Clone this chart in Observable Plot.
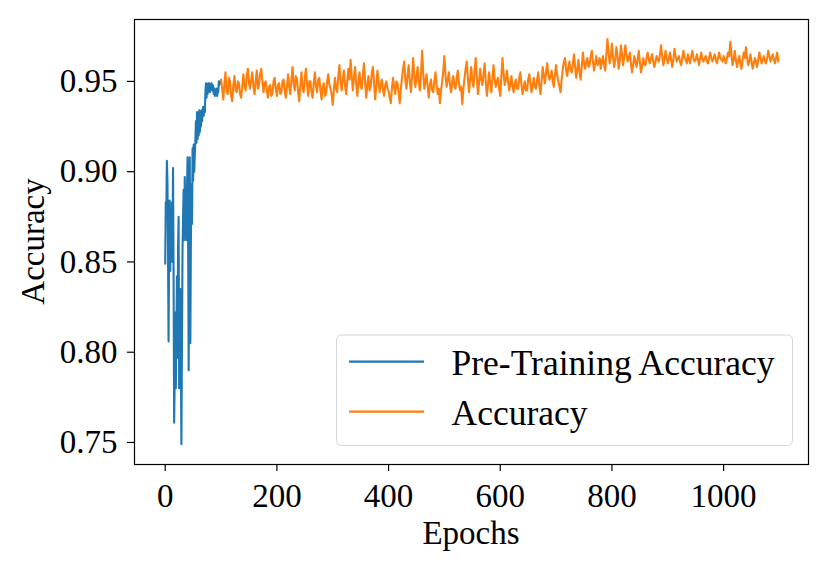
<!DOCTYPE html>
<html><head><meta charset="utf-8">
<script src="https://cdn.jsdelivr.net/npm/d3@7"></script>
<script src="https://cdn.jsdelivr.net/npm/@observablehq/plot@0.6"></script>
<style>html,body{margin:0;padding:0;background:#fff} svg{display:block}</style>
</head><body><div id="chart"></div>
<script>
// Pre-training accuracy, epochs 0..99
const pretrainAcc = [
  0.849, 0.883, 0.878, 0.906, 0.895, 0.858, 0.806, 0.862, 0.884, 0.845,
  0.872, 0.858, 0.883, 0.850, 0.902, 0.842, 0.761, 0.785, 0.822, 0.780,
  0.810, 0.842, 0.797, 0.858, 0.875, 0.780, 0.800, 0.835, 0.800, 0.749,
  0.805, 0.857, 0.875, 0.890, 0.862, 0.897, 0.871, 0.886, 0.862, 0.890,
  0.908, 0.872, 0.790, 0.871, 0.908, 0.805, 0.862, 0.893, 0.871, 0.913,
  0.895, 0.915, 0.900, 0.910, 0.917, 0.928, 0.916, 0.933, 0.918, 0.931,
  0.920, 0.934, 0.922, 0.933, 0.925, 0.934, 0.928, 0.933, 0.936, 0.931,
  0.936, 0.933, 0.944, 0.949, 0.941, 0.948, 0.943, 0.949, 0.945, 0.949,
  0.944, 0.948, 0.946, 0.949, 0.945, 0.948, 0.947, 0.943, 0.946, 0.942,
  0.945, 0.943, 0.946, 0.942, 0.945, 0.944, 0.950, 0.948, 0.950, 0.949
];
// Training accuracy, read every 2 epochs from epoch 100
const trainStart = 100, trainStep = 2;
const trainAcc = [
  0.951,0.946,0.940,0.949,0.955,0.944,0.943,0.952,0.950,0.942,0.939,0.948,0.953,0.945,0.944,0.950,0.949,0.943,0.941,0.947,
  0.954,0.948,0.945,0.953,0.957,0.949,0.946,0.951,0.955,0.947,0.943,0.950,0.956,0.946,0.948,0.954,0.957,0.950,0.944,0.949,
  0.950,0.945,0.941,0.947,0.948,0.942,0.943,0.950,0.952,0.946,0.942,0.948,0.949,0.943,0.944,0.950,0.951,0.945,0.941,0.947,
  0.954,0.947,0.943,0.951,0.958,0.949,0.945,0.953,0.951,0.944,0.939,0.948,0.955,0.946,0.944,0.952,0.957,0.948,0.942,0.950,
  0.950,0.944,0.941,0.949,0.955,0.947,0.944,0.951,0.952,0.945,0.940,0.947,0.949,0.942,0.943,0.950,0.954,0.948,0.946,0.943,
  0.937,0.945,0.952,0.946,0.944,0.953,0.959,0.950,0.945,0.951,0.956,0.948,0.943,0.950,0.957,0.951,0.962,0.953,0.945,0.952,
  0.958,0.949,0.942,0.950,0.955,0.947,0.946,0.954,0.960,0.950,0.941,0.948,0.953,0.945,0.947,0.955,0.958,0.949,0.940,0.947,
  0.956,0.950,0.944,0.949,0.951,0.945,0.942,0.948,0.950,0.946,0.945,0.941,0.938,0.946,0.952,0.947,0.943,0.950,0.949,0.944,
  0.938,0.946,0.952,0.957,0.961,0.951,0.946,0.953,0.959,0.950,0.944,0.952,0.963,0.954,0.947,0.952,0.958,0.950,0.945,0.953,
  0.967,0.955,0.946,0.950,0.954,0.947,0.941,0.948,0.951,0.945,0.944,0.950,0.955,0.948,0.943,0.946,0.938,0.945,0.950,0.956,
  0.964,0.953,0.947,0.951,0.955,0.948,0.944,0.950,0.953,0.947,0.946,0.952,0.956,0.949,0.945,0.947,0.9375,0.946,0.952,0.957,
  0.961,0.952,0.944,0.951,0.958,0.950,0.947,0.955,0.963,0.953,0.943,0.949,0.957,0.951,0.948,0.954,0.960,0.950,0.942,0.948,
  0.955,0.949,0.944,0.952,0.959,0.951,0.947,0.950,0.952,0.946,0.942,0.953,0.963,0.954,0.948,0.951,0.956,0.950,0.945,0.949,
  0.953,0.947,0.944,0.949,0.951,0.946,0.946,0.952,0.955,0.948,0.943,0.947,0.950,0.945,0.945,0.951,0.954,0.949,0.944,0.948,
  0.952,0.947,0.946,0.951,0.955,0.948,0.943,0.950,0.958,0.953,0.949,0.955,0.960,0.954,0.951,0.953,0.956,0.950,0.947,0.954,
  0.959,0.953,0.950,0.947,0.944,0.951,0.957,0.961,0.963,0.956,0.953,0.958,0.961,0.956,0.955,0.960,0.965,0.958,0.952,0.957,
  0.962,0.955,0.951,0.958,0.966,0.960,0.957,0.961,0.963,0.958,0.959,0.964,0.967,0.961,0.956,0.960,0.964,0.959,0.960,0.963,
  0.957,0.961,0.964,0.959,0.956,0.965,0.9735,0.966,0.960,0.964,0.971,0.963,0.958,0.962,0.969,0.964,0.957,0.961,0.970,0.965,
  0.959,0.964,0.970,0.965,0.961,0.963,0.966,0.960,0.955,0.959,0.964,0.961,0.958,0.962,0.967,0.961,0.955,0.958,0.963,0.960,
  0.959,0.963,0.966,0.962,0.960,0.963,0.965,0.961,0.958,0.961,0.964,0.962,0.961,0.965,0.970,0.964,0.959,0.962,0.967,0.963,
  0.960,0.963,0.966,0.962,0.958,0.962,0.968,0.964,0.961,0.963,0.964,0.961,0.959,0.963,0.967,0.963,0.962,0.960,0.965,0.962,
  0.960,0.964,0.967,0.963,0.961,0.962,0.965,0.962,0.959,0.963,0.966,0.962,0.961,0.963,0.964,0.961,0.960,0.963,0.966,0.963,
  0.961,0.963,0.965,0.962,0.960,0.963,0.966,0.963,0.962,0.961,0.964,0.962,0.960,0.963,0.966,0.964,0.972,0.965,0.959,0.962,
  0.967,0.962,0.958,0.961,0.964,0.960,0.957,0.962,0.966,0.963,0.969,0.963,0.959,0.961,0.965,0.961,0.957,0.960,0.963,0.961,
  0.958,0.962,0.966,0.963,0.960,0.962,0.964,0.961,0.960,0.963,0.967,0.964,0.961,0.963,0.965,0.962,0.960,0.963,0.966,0.961
];
const xTicks = [0, 200, 400, 600, 800, 1000];
const yTicks = [0.75, 0.80, 0.85, 0.90, 0.95];
const seriesNames = ["Pre-Training Accuracy", "Accuracy"];
const seriesColors = ["#1f77b4", "#ff7f0e"];
const xLabel = "Epochs", yLabel = "Accuracy";

const pre = pretrainAcc.map((v, i) => ({epoch: i, acc: v}));
const train = trainAcc.map((v, i) => ({epoch: trainStart + i * trainStep, acc: v}));

const FONT = "'Liberation Serif', 'DejaVu Serif', serif";
const W = 830, H = 571, ML = 134, MR = 22, MT = 19, MB = 107;

const plot = Plot.plot({
  width: W, height: H,
  marginLeft: ML, marginRight: MR, marginTop: MT, marginBottom: MB,
  style: {fontFamily: FONT, fontSize: "33px", background: "white", color: "black", overflow: "visible"},
  x: {domain: [-55, 1152]},
  y: {domain: [0.7378, 0.9843]},
  marks: [
    Plot.axisX({ticks: xTicks, tickSize: 7, tickPadding: 12, tickFormat: d => String(d), label: null, fontSize: 33, strokeWidth: 1.2}),
    Plot.axisY({ticks: yTicks, tickSize: 7, tickPadding: 10, tickFormat: d3.format(".2f"), label: null, fontSize: 33, strokeWidth: 1.2}),
    Plot.lineY(pre, {x: "epoch", y: "acc", stroke: seriesColors[0], strokeWidth: 2.1}),
    Plot.lineY(train, {x: "epoch", y: "acc", stroke: seriesColors[1], strokeWidth: 2.1}),
    Plot.frame({stroke: "black", strokeWidth: 1.2})
  ]
});

const svg = d3.select(plot);
// axis titles
svg.append("text").attr("x", (ML + W - MR) / 2).attr("y", 544)
  .attr("text-anchor", "middle").attr("font-family", FONT).attr("font-size", 33).attr("fill", "black").text(xLabel);
svg.append("text").attr("transform", `translate(44,${(MT + H - MB) / 2}) rotate(-90)`)
  .attr("text-anchor", "middle").attr("font-family", FONT).attr("font-size", 33).attr("fill", "black").text(yLabel);

// legend
const lg = svg.append("g").attr("text-anchor", "start");
lg.append("rect").attr("x", 336.5).attr("y", 335).attr("width", 456).attr("height", 110.5).attr("rx", 5)
  .attr("fill", "white").attr("fill-opacity", 0.8).attr("stroke", "#d6d6d6").attr("stroke-width", 1);
seriesNames.forEach((name, i) => {
  const cy = 361.7 + 50 * i;
  lg.append("line").attr("x1", 349).attr("x2", 424).attr("y1", cy).attr("y2", cy)
    .attr("stroke", seriesColors[i]).attr("stroke-width", 2.2);
  lg.append("text").attr("x", 451.5).attr("y", cy + 13).attr("text-anchor", "start")
    .attr("font-family", FONT).attr("font-size", 35.5).attr("fill", "black").text(name);
});

document.getElementById("chart").appendChild(plot);
</script>
</body></html>
